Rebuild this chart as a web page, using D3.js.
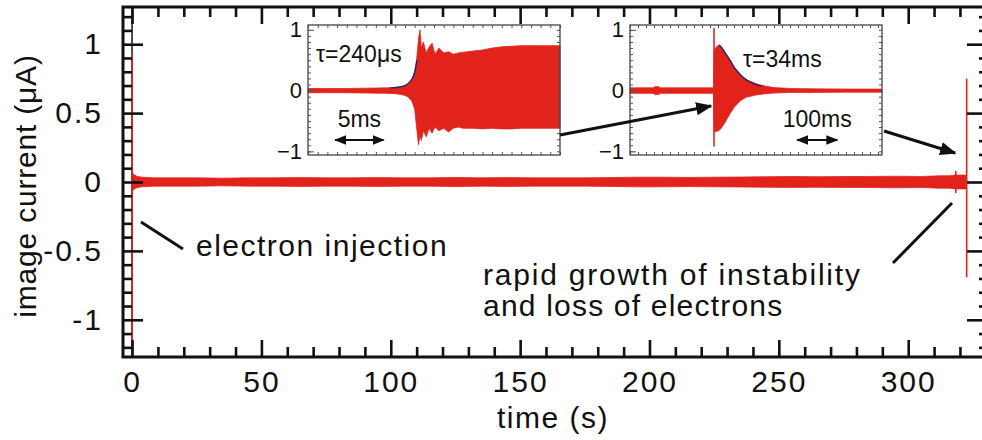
<!DOCTYPE html>
<html>
<head>
<meta charset="utf-8">
<script src="https://cdn.jsdelivr.net/npm/d3@7"></script>
<style>
  body { margin: 0; background: #fff; }
  svg { display: block; }
  text { font-family: Arial, "Liberation Sans", Helvetica, sans-serif; fill: #111; }
</style>
</head>
<body>
<svg id="chart" width="982" height="440"></svg>
<script>
// ---- main record: envelope of the image current (µA) against time (s)
const traceTime = [0.3, 1, 2, 4, 8, 15, 25, 35, 45, 55, 65, 75, 85, 95, 105, 115, 125, 135, 145, 155, 165, 175, 185, 195, 205, 215, 225, 235, 245, 255, 265, 275, 285, 295, 305, 312, 316, 318, 320, 322.3];
const traceHigh = [0.06, 0.05, 0.04, 0.035, 0.03, 0.03, 0.03, 0.028, 0.03, 0.03, 0.032, 0.03, 0.03, 0.032, 0.03, 0.03, 0.033, 0.03, 0.032, 0.03, 0.03, 0.03, 0.032, 0.035, 0.035, 0.033, 0.035, 0.036, 0.038, 0.04, 0.038, 0.04, 0.04, 0.042, 0.04, 0.045, 0.045, 0.05, 0.05, 0.05];
const traceLow  = [-0.06, -0.05, -0.04, -0.035, -0.03, -0.03, -0.03, -0.028, -0.03, -0.03, -0.032, -0.03, -0.03, -0.032, -0.03, -0.03, -0.033, -0.03, -0.032, -0.03, -0.03, -0.03, -0.032, -0.035, -0.035, -0.033, -0.035, -0.036, -0.038, -0.04, -0.038, -0.04, -0.04, -0.042, -0.04, -0.045, -0.045, -0.05, -0.05, -0.05];

// isolated spikes: injection, a precursor burst and the final loss
const spikeTime = [0, 318.4, 322.6];
const spikeHigh = [0.93, 0.08, 0.75];
const spikeLow  = [-1.2, -0.08, -0.69];

const xTickValues = [0, 50, 100, 150, 200, 250, 300];
const yTickValues = [-1, -0.5, 0, 0.5, 1];
const yTickLabels = ["-1", "-0.5", "0", "0.5", "1"];

// ---- inset A: onset of the instability, time in ms
const insetATime = [0, 2, 4, 6, 8, 9, 9.8, 10.3, 10.7, 11.0, 11.2, 11.4, 11.55, 11.7, 11.9, 12.2, 12.5, 12.8, 13.1, 13.5, 14.0, 14.5, 15.0, 15.5, 16, 17, 18, 19, 20, 21, 22, 23, 24, 25, 26];
const insetAHigh = [0.035, 0.035, 0.035, 0.04, 0.045, 0.05, 0.07, 0.1, 0.17, 0.3, 0.5, 0.85, 1.0, 0.7, 0.8, 0.62, 0.72, 0.78, 0.6, 0.7, 0.62, 0.64, 0.6, 0.62, 0.63, 0.65, 0.67, 0.7, 0.72, 0.73, 0.74, 0.74, 0.74, 0.74, 0.74];
const insetALow  = [-0.035, -0.035, -0.035, -0.04, -0.045, -0.05, -0.07, -0.1, -0.17, -0.3, -0.6, -0.89, -0.75, -0.82, -0.66, -0.76, -0.62, -0.7, -0.6, -0.66, -0.62, -0.68, -0.62, -0.6, -0.62, -0.62, -0.63, -0.62, -0.63, -0.63, -0.62, -0.62, -0.62, -0.62, -0.62];
const insetAFitTime  = [8.5, 9.5, 10.2, 10.6, 10.9, 11.1, 11.25];
const insetAFitValue = [0.045, 0.06, 0.1, 0.16, 0.25, 0.37, 0.5];

// ---- inset B: growth and decay of the final burst, time in ms
const insetBTime = [0, 30, 58, 62, 72, 76, 100, 150, 190, 205, 209, 210, 212, 216, 222, 228, 235, 242, 250, 260, 275, 290, 317, 340, 360, 400, 450, 500, 550, 630];
const insetBHigh = [0.045, 0.045, 0.045, 0.065, 0.065, 0.045, 0.045, 0.045, 0.045, 0.045, 0.05, 0.6, 0.68, 0.72, 0.75, 0.73, 0.65, 0.58, 0.5, 0.38, 0.27, 0.18, 0.11, 0.07, 0.05, 0.035, 0.03, 0.028, 0.025, 0.025];
const insetBLow  = [-0.045, -0.045, -0.045, -0.065, -0.065, -0.045, -0.045, -0.045, -0.045, -0.045, -0.05, -0.68, -0.68, -0.67, -0.66, -0.62, -0.55, -0.47, -0.38, -0.28, -0.17, -0.11, -0.07, -0.05, -0.04, -0.03, -0.03, -0.028, -0.025, -0.025];
const insetBSpikeTime = 210;
const insetBSpikeHigh = 1.03;
const insetBSpikeLow = -0.92;
const insetBFitTime  = [222, 230, 240, 250, 262, 275, 290, 310, 330];
const insetBFitValue = [0.75, 0.7, 0.6, 0.5, 0.37, 0.27, 0.18, 0.11, 0.07];

const insetYTicks = [-1, 0, 1];

// ---------------------------------------------------------------
const RED = "#e2231c";
const FIT = "#1d2a66";
const svg = d3.select("#chart");

const defs = svg.append("defs");
defs.append("marker")
  .attr("id", "head").attr("viewBox", "0 0 10 10")
  .attr("refX", 9).attr("refY", 5)
  .attr("markerWidth", 5.5).attr("markerHeight", 5.5)
  .attr("markerUnits", "strokeWidth")
  .attr("orient", "auto-start-reverse")
  .append("path").attr("d", "M0,1 L10,5 L0,9 Z").attr("fill", "#111");

// main scales
const plot = { left: 123, right: 984, top: 7, bottom: 357 };
const x = d3.scaleLinear().domain([-3.5, 329.3]).range([plot.left, plot.right]);
const y = d3.scaleLinear().domain([-1.27, 1.27]).range([plot.bottom, plot.top]);

const minorX = d3.range(0, 330, 10).filter(v => !xTickValues.includes(v));
const minorY = d3.range(-12, 13).map(v => v / 10).filter(v => !yTickValues.includes(v));

// main trace band
const band = d3.area()
  .x((d, i) => x(traceTime[i]))
  .y0((d, i) => y(traceLow[i]))
  .y1((d, i) => y(traceHigh[i]));
svg.append("path").datum(traceTime).attr("d", band)
  .attr("fill", RED).attr("stroke", RED).attr("stroke-width", 0.8);

// injection marker line
svg.append("line")
  .attr("x1", x(0)).attr("x2", x(0))
  .attr("y1", plot.top).attr("y2", plot.bottom)
  .attr("stroke", "#222").attr("stroke-width", 1.6);

// spikes
svg.append("g").selectAll("line").data(spikeTime).join("line")
  .attr("x1", d => x(d)).attr("x2", d => x(d))
  .attr("y1", (d, i) => y(spikeHigh[i])).attr("y2", (d, i) => y(spikeLow[i]))
  .attr("stroke", RED).attr("stroke-width", 1.6);

// axes: ticks point inward on all four sides
function styleAxis(g) {
  g.select(".domain").remove();
  g.selectAll(".tick line").attr("stroke", "#111").attr("stroke-width", 2.6);
  g.selectAll(".tick text")
    .style("font-size", "30px").style("letter-spacing", "2px").attr("fill", "#111");
}
svg.append("g").attr("transform", `translate(0,${plot.bottom})`)
  .call(d3.axisBottom(x).tickValues(minorX).tickSize(-10).tickFormat(""))
  .call(styleAxis);
svg.append("g").attr("transform", `translate(0,${plot.bottom})`)
  .call(d3.axisBottom(x).tickValues(xTickValues).tickSize(-17).tickPadding(14).tickFormat(d3.format("d")))
  .call(styleAxis);
svg.append("g").attr("transform", `translate(0,${plot.top})`)
  .call(d3.axisTop(x).tickValues(minorX).tickSize(-10).tickFormat(""))
  .call(styleAxis);
svg.append("g").attr("transform", `translate(0,${plot.top})`)
  .call(d3.axisTop(x).tickValues(xTickValues).tickSize(-17).tickFormat(""))
  .call(styleAxis);
svg.append("g").attr("transform", `translate(${plot.left},0)`)
  .call(d3.axisLeft(y).tickValues(minorY).tickSize(-9).tickFormat(""))
  .call(styleAxis);
svg.append("g").attr("transform", `translate(${plot.left},0)`)
  .call(d3.axisLeft(y).tickValues(yTickValues).tickSize(-20).tickPadding(20)
    .tickFormat((d, i) => yTickLabels[i]))
  .call(styleAxis);
svg.append("g").attr("transform", `translate(${plot.right},0)`)
  .call(d3.axisRight(y).tickValues(minorY).tickSize(-5).tickFormat(""))
  .call(styleAxis);
svg.append("g").attr("transform", `translate(${plot.right},0)`)
  .call(d3.axisRight(y).tickValues(yTickValues).tickSize(-17).tickFormat(""))
  .call(styleAxis);

svg.append("rect")
  .attr("x", plot.left).attr("y", plot.top)
  .attr("width", plot.right - plot.left).attr("height", plot.bottom - plot.top)
  .attr("fill", "none").attr("stroke", "#111").attr("stroke-width", 3);

// axis titles
svg.append("text").attr("x", 553).attr("y", 428).attr("text-anchor", "middle")
  .style("font-size", "30px").style("letter-spacing", "1.5px").text("time (s)");
svg.append("text").attr("transform", "translate(36,186) rotate(-90)").attr("text-anchor", "middle")
  .style("font-size", "30px").style("letter-spacing", "0.8px").text("image current (μA)");

// annotations
svg.append("line").attr("x1", 141).attr("y1", 222).attr("x2", 183).attr("y2", 249)
  .attr("stroke", "#111").attr("stroke-width", 3);
svg.append("text").attr("x", 196).attr("y", 256)
  .style("font-size", "30px").style("letter-spacing", "1.5px").text("electron injection");
svg.append("line").attr("x1", 893).attr("y1", 263).attr("x2", 952).attr("y2", 203)
  .attr("stroke", "#111").attr("stroke-width", 3);
svg.append("text").attr("x", 483).attr("y", 285)
  .style("font-size", "30px").style("letter-spacing", "1.8px").text("rapid growth of instability");
svg.append("text").attr("x", 483).attr("y", 316)
  .style("font-size", "30px").style("letter-spacing", "1.2px").text("and loss of electrons");

// ---- insets
function drawInset(cfg) {
  const g = svg.append("g");
  const ix = d3.scaleLinear().domain(cfg.domain).range([cfg.x0, cfg.x1]);
  const iy = d3.scaleLinear().domain([-1.06, 1.08]).range([155, 25]);
  g.append("rect").attr("x", cfg.x0).attr("y", 25)
    .attr("width", cfg.x1 - cfg.x0).attr("height", 130).attr("fill", "#fff");

  const area = d3.area()
    .x((d, i) => ix(cfg.time[i]))
    .y0((d, i) => iy(cfg.low[i]))
    .y1((d, i) => iy(cfg.high[i]));
  g.append("path").datum(cfg.time).attr("d", area)
    .attr("fill", RED).attr("stroke", RED).attr("stroke-width", 0.8);
  if (cfg.spike) {
    g.append("line")
      .attr("x1", ix(cfg.spike[0])).attr("x2", ix(cfg.spike[0]))
      .attr("y1", iy(cfg.spike[1])).attr("y2", iy(cfg.spike[2]))
      .attr("stroke", RED).attr("stroke-width", 1.6);
  }
  const fit = d3.line().x((d, i) => ix(cfg.fitTime[i])).y(d => iy(d)).curve(d3.curveMonotoneX);
  g.append("path").datum(cfg.fitValue).attr("d", fit)
    .attr("fill", "none").attr("stroke", FIT).attr("stroke-width", 1.4);

  const tickStyle = s => {
    s.select(".domain").remove();
    s.selectAll(".tick line").attr("stroke", "#555").attr("stroke-width", 1);
    s.selectAll(".tick text").style("font-size", "22px").attr("fill", "#111");
  };
  const xMinor = d3.range(cfg.domain[0], cfg.domain[1] + 1e-9, cfg.xStep);
  const yMinor = d3.range(-10, 11).map(v => v / 10);
  g.append("g").attr("transform", "translate(0,155)")
    .call(d3.axisBottom(ix).tickValues(xMinor).tickSize(-3).tickFormat("")).call(tickStyle);
  g.append("g").attr("transform", "translate(0,25)")
    .call(d3.axisTop(ix).tickValues(xMinor).tickSize(-3).tickFormat("")).call(tickStyle);
  g.append("g").attr("transform", `translate(${cfg.x0},0)`)
    .call(d3.axisLeft(iy).tickValues(yMinor).tickSize(-3).tickFormat("")).call(tickStyle);
  g.append("g").attr("transform", `translate(${cfg.x1},0)`)
    .call(d3.axisRight(iy).tickValues(yMinor).tickSize(-3).tickFormat("")).call(tickStyle);
  g.append("g").attr("transform", `translate(${cfg.x0},0)`)
    .call(d3.axisLeft(iy).tickValues(insetYTicks).tickSize(-6).tickPadding(6).tickFormat(d3.format("d")))
    .call(tickStyle);

  g.append("rect").attr("x", cfg.x0).attr("y", 25)
    .attr("width", cfg.x1 - cfg.x0).attr("height", 130)
    .attr("fill", "none").attr("stroke", "#444").attr("stroke-width", 1.3);

  // time scale bar
  g.append("text").attr("x", (ix(cfg.bar[0]) + ix(cfg.bar[1])) / 2).attr("y", 127)
    .attr("text-anchor", "middle").style("font-size", "23px").text(cfg.barLabel);
  g.append("line")
    .attr("x1", ix(cfg.bar[0])).attr("x2", ix(cfg.bar[1]))
    .attr("y1", 140).attr("y2", 140)
    .attr("stroke", "#111").attr("stroke-width", 2.2)
    .attr("marker-start", "url(#head)").attr("marker-end", "url(#head)");

  g.append("text").attr("x", cfg.tauPos[0]).attr("y", cfg.tauPos[1])
    .style("font-size", "23px").text(cfg.tauLabel);
}

drawInset({
  x0: 308, x1: 560, domain: [0, 26], xStep: 1,
  time: insetATime, high: insetAHigh, low: insetALow,
  fitTime: insetAFitTime, fitValue: insetAFitValue,
  bar: [2.8, 7.8], barLabel: "5ms",
  tauLabel: "τ=240μs", tauPos: [316, 62]
});
drawInset({
  x0: 630, x1: 882, domain: [0, 630], xStep: 20,
  time: insetBTime, high: insetBHigh, low: insetBLow,
  spike: [insetBSpikeTime, insetBSpikeHigh, insetBSpikeLow],
  fitTime: insetBFitTime, fitValue: insetBFitValue,
  bar: [418, 518], barLabel: "100ms",
  tauLabel: "τ=34ms", tauPos: [743, 67]
});

// arrows linking the insets to the record
svg.append("line").attr("x1", 560).attr("y1", 135).attr("x2", 711).attr("y2", 106)
  .attr("stroke", "#111").attr("stroke-width", 3).attr("marker-end", "url(#head)");
svg.append("line").attr("x1", 884).attr("y1", 131).attr("x2", 955).attr("y2", 153)
  .attr("stroke", "#111").attr("stroke-width", 3).attr("marker-end", "url(#head)");
</script>
</body>
</html>
